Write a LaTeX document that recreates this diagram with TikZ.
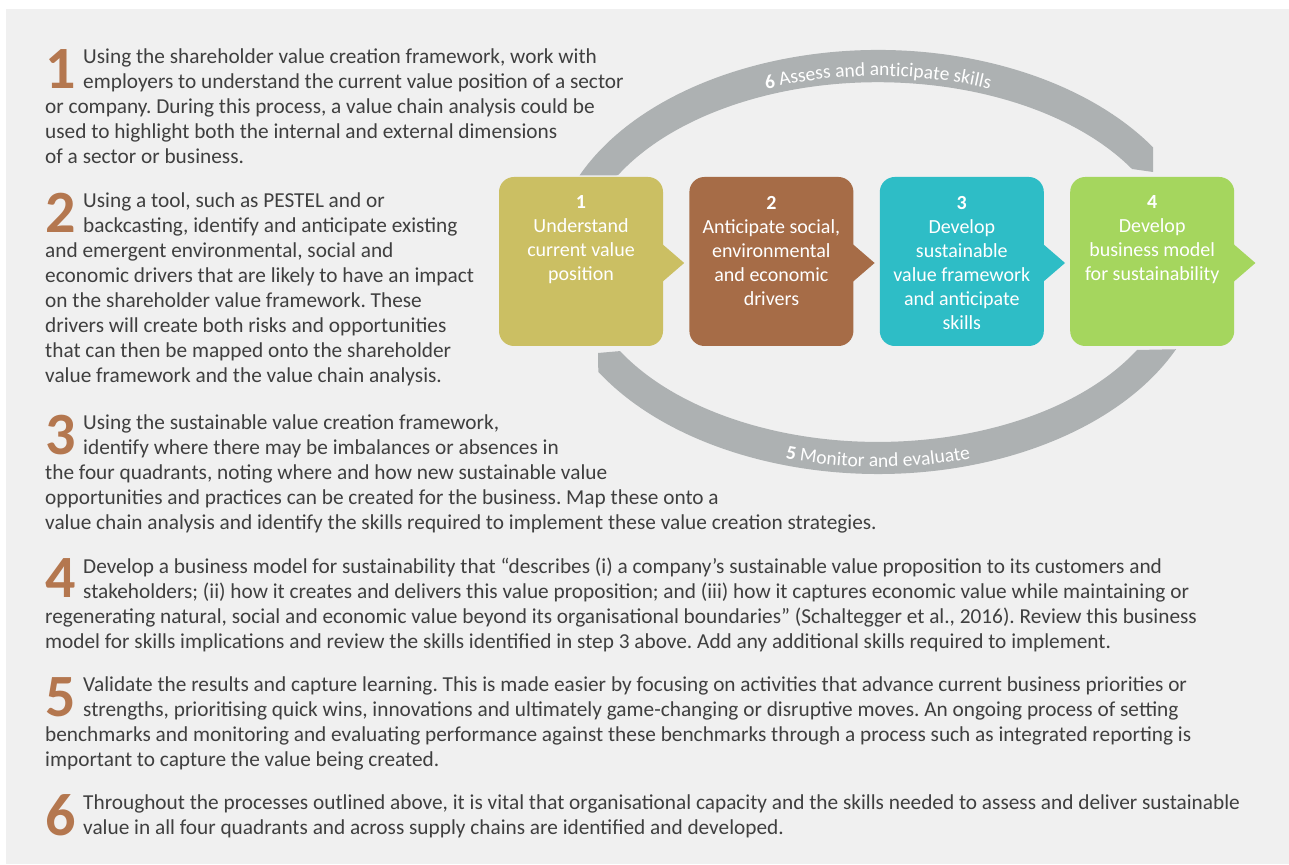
\documentclass[tikz,border=0pt]{standalone}
\usepackage{fontspec}
\setmainfont{Carlito}
\usepackage{tikz}
\usetikzlibrary{positioning}
\usetikzlibrary{decorations.text}
\frenchspacing
\definecolor{panel}{HTML}{F0F0F0}
\definecolor{bodygrey}{HTML}{3F3F3F}
\definecolor{numbrown}{HTML}{B4774F}
\definecolor{bandgrey}{HTML}{ADB1B2}
\definecolor{boxone}{HTML}{CBBF63}
\definecolor{boxtwo}{HTML}{A66C47}
\definecolor{boxthree}{HTML}{2EBDC6}
\definecolor{boxfour}{HTML}{A5D65E}
\tikzset{%
  mybox/.style={rectangle, rounded corners=15pt, minimum width=164pt, minimum height=169pt, inner sep=0pt},
  mylabel/.style={text=white, align=center, inner sep=0pt, font=\fontsize{20}{24}\selectfont},
  mypara/.style={anchor=north west, align=left, inner sep=0pt, text=bodygrey, font=\fontsize{21.3}{25}\selectfont},
  mynum/.style={anchor=north west, inner sep=0pt, text=numbrown, font=\fontsize{60}{60}\selectfont\bfseries},
  myband/.style={fill=bandgrey}
}

\begin{document}
\begin{tikzpicture}[x=1pt, y=1pt]
  \useasboundingbox (0,0) rectangle (1289,864);
  \fill[white] (0,0) rectangle (1289,864);
  \fill[panel] (6,0) rectangle (1289,855);

  \fill[myband] (878,602) ++(155.9:327pt and 212pt) arc[start angle=155.9, end angle=32.7, x radius=327pt, y radius=212pt]
    -- (1153,692) -- (1132,695) arc[start angle=31.2, end angle=151.1, x radius=297pt, y radius=180pt] -- cycle;
  \fill[myband] (878,602) ++(211.2:327pt and 212pt) arc[start angle=211.2, end angle=335.7, x radius=327pt, y radius=212pt]
    -- (1137,514) arc[start angle=-29.3, end angle=-150.3, x radius=297pt, y radius=180pt] -- (598,511) -- cycle;

  \path[decorate, decoration={text along path, text align=center, text color=white,
    text={|\fontsize{19.5}{19.5}\selectfont\bfseries|6|\fontsize{19.5}{19.5}\selectfont\mdseries| Assess and anticipate skills}}]
    (878,602) ++(165:303pt and 186pt) arc[start angle=165, end angle=15, x radius=303pt, y radius=186pt];
  \path[decorate, decoration={text along path, text align=center, text color=white,
    text={|\fontsize{19.5}{19.5}\selectfont\bfseries|5|\fontsize{19.5}{19.5}\selectfont\mdseries| Monitor and evaluate}}]
    (878,602) ++(195:321pt and 205pt) arc[start angle=195, end angle=345, x radius=321pt, y radius=205pt];

  \node[mybox, fill=boxone] (s1) at (581,602.5) {};
  \node[mybox, fill=boxtwo, right=26pt of s1] (s2) {};
  \node[mybox, fill=boxthree, right=26pt of s2] (s3) {};
  \node[mybox, fill=boxfour, right=26pt of s3] (s4) {};
  \foreach \b/\c in {s1/boxone, s2/boxtwo, s3/boxthree, s4/boxfour}
    \fill[\c] ([xshift=-1pt, yshift=17.5pt]\b.east) -- ([xshift=21pt, yshift=-1.5pt]\b.east)
      -- ([xshift=-1pt, yshift=-20.5pt]\b.east) -- cycle;

  \node[mylabel, below=19pt of s1.north] (t1) {\textbf{1}\\Understand\\current value\\position};
  \node[mylabel, below=19pt of s2.north] (t2) {\textbf{2}\\Anticipate social,\\environmental\\and economic\\drivers};
  \node[mylabel, below=19pt of s3.north] (t3) {\textbf{3}\\Develop\\sustainable\\value framework\\and anticipate\\skills};
  \node[mylabel, below=19pt of s4.north] (t4) {\textbf{4}\\Develop\\business model\\for sustainability};

  \node[mypara] (p1) at (45,815) {\hspace*{38pt}Using the shareholder value creation framework, work with\\
    \hspace*{38pt}employers to understand the current value position of a sector\\
    or company. During this process, a value chain analysis could be\\
    used to highlight both the internal and external dimensions\\
    of a sector or business.};
  \node[mynum] (d1) at (p1.north west) {1};

  \node[mypara] (p2) at (45,671.3) {\hspace*{38pt}Using a tool, such as PESTEL and or\\
    \hspace*{38pt}backcasting, identify and anticipate existing\\
    and emergent environmental, social and\\
    economic drivers that are likely to have an impact\\
    on the shareholder value framework. These\\
    drivers will create both risks and opportunities\\
    that can then be mapped onto the shareholder\\
    value framework and the value chain analysis.};
  \node[mynum] (d2) at (p2.north west) {2};

  \node[mypara] (p3) at (45,449.3) {\hspace*{38pt}Using the sustainable value creation framework,\\
    \hspace*{38pt}identify where there may be imbalances or absences in\\
    the four quadrants, noting where and how new sustainable value\\
    opportunities and practices can be created for the business. Map these onto a\\
    value chain analysis and identify the skills required to implement these value creation strategies.};
  \node[mynum] (d3) at (p3.north west) {3};

  \node[mypara] (p4) at (45,306) {\hspace*{38pt}Develop a business model for sustainability that “describes (i) a company’s sustainable value proposition to its customers and\\
    \hspace*{38pt}stakeholders; (ii) how it creates and delivers this value proposition; and (iii) how it captures economic value while maintaining or\\
    regenerating natural, social and economic value beyond its organisational boundaries” (Schaltegger et al., 2016). Review this business\\
    model for skills implications and review the skills identified in step 3 above. Add any additional skills required to implement.};
  \node[mynum] (d4) at (p4.north west) {4};

  \node[mypara] (p5) at (45,187) {\hspace*{38pt}Validate the results and capture learning. This is made easier by focusing on activities that advance current business priorities or\\
    \hspace*{38pt}strengths, prioritising quick wins, innovations and ultimately game-changing or disruptive moves. An ongoing process of setting\\
    benchmarks and monitoring and evaluating performance against these benchmarks through a process such as integrated reporting is\\
    important to capture the value being created.};
  \node[mynum] (d5) at (p5.north west) {5};

  \node[mypara] (p6) at (45,69.3) {\hspace*{38pt}Throughout the processes outlined above, it is vital that organisational capacity and the skills needed to assess and deliver sustainable\\
    \hspace*{38pt}value in all four quadrants and across supply chains are identified and developed.};
  \node[mynum] (d6) at (p6.north west) {6};
\end{tikzpicture}
\end{document}
